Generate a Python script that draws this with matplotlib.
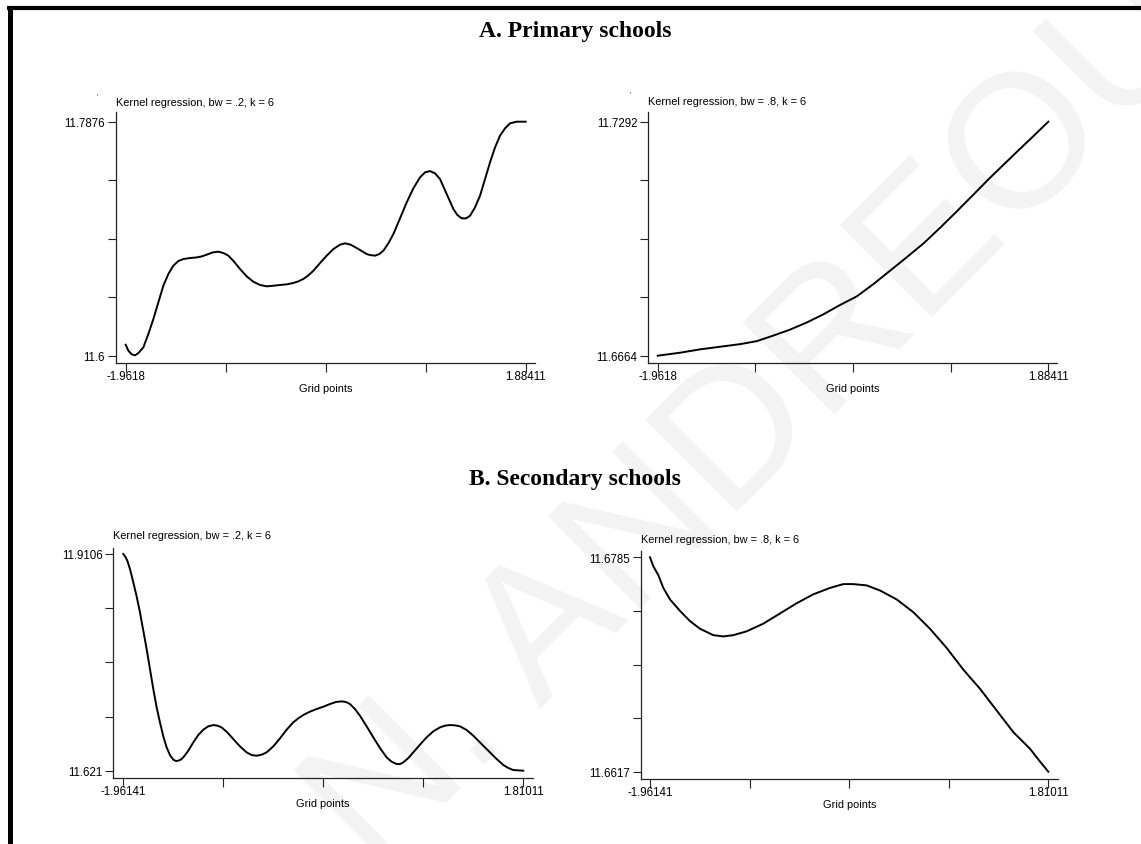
import matplotlib
matplotlib.use("Agg")
import matplotlib.pyplot as plt
from matplotlib.lines import Line2D
import numpy as np

plt.rcParams['font.family'] = ['Liberation Sans', 'DejaVu Sans']

W, H, DPI = 1141, 845, 100

# kernel regression curves, read per grid point
prim_bw2_x = [-1.9618, -1.9362, -1.9041, -1.8721, -1.8400, -1.7919, -1.7439, -1.6958, -1.6477,
              -1.5997, -1.5516, -1.5035, -1.4554, -1.4074, -1.3433, -1.2792, -1.2311, -1.1830,
              -1.1253, -1.0708, -1.0228, -0.9747, -0.9202, -0.8625, -0.7984, -0.7343, -0.6702,
              -0.6061, -0.5420, -0.4779, -0.4138, -0.3497, -0.3017, -0.2536, -0.2055, -0.1574,
              -0.0933, -0.0292, 0.0349, 0.0990, 0.1470, 0.2015, 0.2592, 0.3073, 0.3553, 0.3874,
              0.4355, 0.4771, 0.5156, 0.5637, 0.6117, 0.6758, 0.7399, 0.8040, 0.8681, 0.9162,
              0.9643, 1.0123, 1.0604, 1.1245, 1.1886, 1.2271, 1.2687, 1.3104, 1.3489, 1.3969,
              1.4450, 1.4931, 1.5412, 1.5892, 1.6373, 1.6854, 1.7335, 1.7976, 1.88411]
prim_bw2_y = [11.6088, 11.6040, 11.6011, 11.6003, 11.6021, 11.6067, 11.6174, 11.6294, 11.6428,
              11.6561, 11.6655, 11.6722, 11.6759, 11.6775, 11.6783, 11.6788, 11.6796, 11.6810,
              11.6828, 11.6834, 11.6823, 11.6802, 11.6754, 11.6695, 11.6636, 11.6593, 11.6567,
              11.6556, 11.6561, 11.6567, 11.6572, 11.6583, 11.6596, 11.6615, 11.6644, 11.6681,
              11.6743, 11.6802, 11.6855, 11.6890, 11.6901, 11.6890, 11.6863, 11.6839, 11.6815, 11.6807,
              11.6802, 11.6815, 11.6842, 11.6901, 11.6975, 11.7101, 11.7229, 11.7342, 11.7430, 11.7470,
              11.7480, 11.7462, 11.7416, 11.7296, 11.7176, 11.7128, 11.7101, 11.7101, 11.7122, 11.7189,
              11.7283, 11.7416, 11.7550, 11.7670, 11.7764, 11.7823, 11.7863, 11.7876, 11.7876]

prim_bw8_x = [-1.9618, -1.7419, -1.5451, -1.3482, -1.1513, -0.9872, -0.8231, -0.6590, -0.4950,
              -0.3309, -0.1668, -0.0027, 0.1613, 0.3254, 0.4895, 0.6536, 0.8176, 0.9817, 1.1458,
              1.2935, 1.4411, 1.6052, 1.7365, 1.88411]
prim_bw8_y = [11.6664, 11.6672, 11.6681, 11.6688, 11.6695, 11.6703, 11.6718, 11.6734, 11.6753,
              11.6775, 11.6800, 11.6823, 11.6856, 11.6892, 11.6928, 11.6965, 11.7007, 11.7051, 11.7096,
              11.7137, 11.7176, 11.7219, 11.7253, 11.7292]

sec_bw2_x = [-1.96141, -1.9426, -1.9237, -1.8986, -1.8671, -1.8357, -1.8043, -1.7728, -1.7414,
             -1.7100, -1.6786, -1.6471, -1.6157, -1.5843, -1.5528, -1.5214, -1.4900, -1.4648,
             -1.4428, -1.4208, -1.3957, -1.3485, -1.3014, -1.2543, -1.2071, -1.1600, -1.1128,
             -1.0751, -1.0342, -0.9808, -0.9242, -0.8614, -0.7985, -0.7514, -0.7042, -0.6571,
             -0.6100, -0.5471, -0.4842, -0.4214, -0.3585, -0.3114, -0.2642, -0.2014, -0.1385,
             -0.0757, -0.0128, 0.0438, 0.0972, 0.1381, 0.1758, 0.2229, 0.2701, 0.3329, 0.3958,
             0.4587, 0.5215, 0.5686, 0.6158, 0.6472, 0.6787, 0.7258, 0.7729, 0.8358, 0.8987,
             0.9615, 1.0244, 1.0715, 1.1187, 1.1658, 1.2130, 1.2758, 1.3387, 1.4172, 1.4958,
             1.5587, 1.6215, 1.6687, 1.7158, 1.81011]
sec_bw2_y = [11.9106, 11.9070, 11.9017, 11.8906, 11.8727, 11.8540, 11.8326, 11.8081, 11.7836,
             11.7569, 11.7302, 11.7057, 11.6856, 11.6669, 11.6522, 11.6419, 11.6357, 11.6339,
             11.6344, 11.6357, 11.6388, 11.6477, 11.6589, 11.6687, 11.6758, 11.6803, 11.6820,
             11.6812, 11.6789, 11.6722, 11.6633, 11.6535, 11.6455, 11.6419, 11.6410, 11.6424,
             11.6455, 11.6535, 11.6642, 11.6758, 11.6856, 11.6910, 11.6954, 11.6999, 11.7034,
             11.7065, 11.7101, 11.7128, 11.7137, 11.7128, 11.7101, 11.7034, 11.6945, 11.6803, 11.6656,
             11.6513, 11.6388, 11.6330, 11.6299, 11.6299, 11.6321, 11.6379, 11.6455, 11.6558, 11.6656,
             11.6736, 11.6789, 11.6812, 11.6820, 11.6816, 11.6803, 11.6754, 11.6678, 11.6566, 11.6455,
             11.6366, 11.6286, 11.6246, 11.6219, 11.6210]

sec_bw8_x = [-1.96141, -1.9299, -1.8825, -1.8352, -1.7720, -1.6774, -1.5827, -1.4880, -1.3618,
             -1.2671, -1.1724, -1.0461, -0.8883, -0.7305, -0.5727, -0.4149, -0.2571, -0.1309,
             -0.0362, 0.0900, 0.2163, 0.3741, 0.5319, 0.6897, 0.8475, 1.0053, 1.1631, 1.3209,
             1.4787, 1.6365, 1.7312, 1.81011]
sec_bw8_y = [11.6785, 11.6778, 11.6771, 11.6761, 11.6752, 11.6743, 11.6735, 11.6729, 11.6724,
             11.6723, 11.6724, 11.6727, 11.6733, 11.6741, 11.6749, 11.6756, 11.6761, 11.6764,
             11.6764, 11.6763, 11.6759, 11.6752, 11.6742, 11.6729, 11.6714, 11.6697, 11.6682, 11.6665,
             11.6648, 11.6635, 11.6625, 11.6617]

prim_xrange = (-1.9618, 1.88411)
sec_xrange = (-1.96141, 1.81011)
x_labels_prim = ['-1.9618', '1.88411']
x_labels_sec = ['-1.96141', '1.81011']

titles = ['Kernel regression, bw = .2, k = 6', 'Kernel regression, bw = .8, k = 6']
sections = ['A. Primary schools', 'B. Secondary schools']


def panel(fig, box, xpx, ypx, title_y, x, y, xr, yr, xlabels, ylabels, title):
    """box = (left, top, right, bottom) in px; xpx = (left, right), ypx = (bottom, top)
    pixel positions of the end values on each axis"""
    L, T, R, B = box
    ax = fig.add_axes([L / W, 1 - B / H, (R - L) / W, (B - T) / H])
    sx = (xr[1] - xr[0]) / (xpx[1] - xpx[0])
    sy = (yr[1] - yr[0]) / (ypx[0] - ypx[1])
    ax.set_xlim(xr[0] - (xpx[0] - L) * sx, xr[1] + (R - xpx[1]) * sx)
    ax.set_ylim(yr[0] - (B - ypx[0]) * sy, yr[1] + (ypx[1] - T) * sy)
    ax.set_facecolor('none')
    ax.plot(x, y, color='black', lw=1.4, solid_joinstyle='round')
    for s in ['top', 'right']:
        ax.spines[s].set_visible(False)
    for s in ['left', 'bottom']:
        ax.spines[s].set_linewidth(0.9)
        ax.spines[s].set_color('#222222')
    xt = np.linspace(xr[0], xr[1], 5)
    yt = np.linspace(yr[0], yr[1], 5)
    ax.set_xticks(xt)
    ax.set_xticklabels([xlabels[0], '', '', '', xlabels[1]])
    ax.set_yticks(yt)
    ax.set_yticklabels([ylabels[0], '', '', '', ylabels[1]])
    ax.tick_params(axis='x', length=6.5, width=0.8, pad=-1.5, labelsize=8.3, color='#222222')
    ax.tick_params(axis='y', length=5.8, width=0.8, pad=2, labelsize=8.3, color='#222222')
    ax.set_xlabel('Grid points', fontsize=7.9, labelpad=0.5)
    fig.text(L / W, 1 - title_y / H, title, fontsize=7.9, ha='left', va='center')
    return ax


fig = plt.figure(figsize=(W / DPI, H / DPI), dpi=DPI)
fig.patch.set_facecolor('white')

# faint diagonal watermark
fig.text(0.666, 0.502, 'N. ANDREOU', rotation=45, fontsize=137, color='#f3f3f3',
         ha='center', va='center', zorder=-5, family='Liberation Sans')

panel(fig, (116, 113, 535, 364), (125.7, 525.7), (356.7, 122.7), 103,
      prim_bw2_x, prim_bw2_y, prim_xrange, (11.6, 11.7876),
      x_labels_prim, ['11.6', '11.7876'], titles[0])
panel(fig, (648.3, 113, 1057.3, 364), (657.7, 1048.3), (356.7, 122.7), 102,
      prim_bw8_x, prim_bw8_y, prim_xrange, (11.6664, 11.7292),
      x_labels_prim, ['11.6664', '11.7292'], titles[1])
panel(fig, (113.3, 549.3, 532.7, 779.3), (123.3, 523.3), (771.7, 555), 536,
      sec_bw2_x, sec_bw2_y, sec_xrange, (11.621, 11.9106),
      x_labels_sec, ['11.621', '11.9106'], titles[0])
panel(fig, (640.7, 551.7, 1058.3, 780), (650, 1048.3), (772.7, 558.3), 540,
      sec_bw8_x, sec_bw8_y, sec_xrange, (11.6617, 11.6785),
      x_labels_sec, ['11.6617', '11.6785'], titles[1])

# stray marks left of the upper panel captions
fig.text(97 / W, 1 - 97 / H, "'", fontsize=5, ha='center', va='center')
fig.text(630 / W, 1 - 95 / H, "'", fontsize=5, ha='center', va='center')

fig.text(575 / W, 1 - 31 / H, sections[0], fontsize=17, fontweight='bold',
         family='Liberation Serif', ha='center', va='center')
fig.text(575 / W, 1 - 480 / H, sections[1], fontsize=17, fontweight='bold',
         family='Liberation Serif', ha='center', va='center')

# heavy frame along top and left edges
fig.add_artist(Line2D([9.5 / W, 9.5 / W], [0, 1 - 7 / H], transform=fig.transFigure,
                      color='black', lw=3.6, solid_capstyle='butt'))
fig.add_artist(Line2D([7 / W, 1], [1 - 9 / H, 1 - 9 / H], transform=fig.transFigure,
                      color='black', lw=3.0, solid_capstyle='butt'))

fig.savefig('out.png', dpi=DPI)
